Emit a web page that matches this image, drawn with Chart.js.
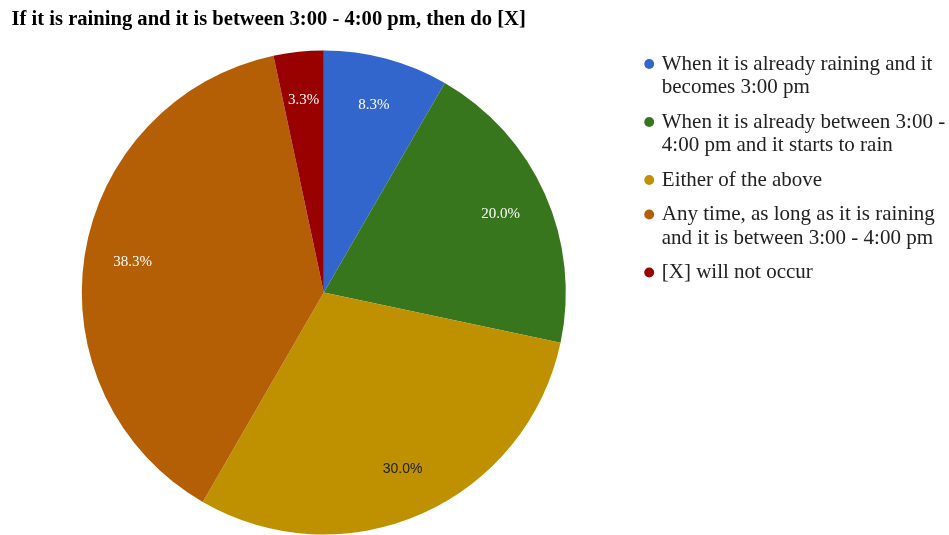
<!DOCTYPE html>
<html>
<head>
<meta charset="utf-8">
<script src="https://cdn.jsdelivr.net/npm/chart.js@4/dist/chart.umd.min.js"></script>
<style>
  html, body { margin: 0; padding: 0; background: #ffffff; overflow: hidden; }
  #wrap { position: relative; width: 949px; height: 543px; }
</style>
</head>
<body>
<div id="wrap"><canvas id="pie"></canvas></div>
<script>
// Survey answers (number of responses per option)
const chartTitle = 'If it is raining and it is between 3:00 - 4:00 pm, then do [X]';
const categories = [
  ['When it is already raining and it', 'becomes 3:00 pm'],
  ['When it is already between 3:00 -', '4:00 pm and it starts to rain'],
  ['Either of the above'],
  ['Any time, as long as it is raining', 'and it is between 3:00 - 4:00 pm'],
  ['[X] will not occur']
];
const responses = [5, 12, 18, 23, 2];
const sliceColors = ['#3366cc', '#38761d', '#bf9000', '#b45f06', '#990000'];

// Percentage labels drawn inside each slice
const sliceLabels = {
  id: 'sliceLabels',
  afterDatasetsDraw(chart, args, opts) {
    const ctx = chart.ctx;
    const meta = chart.getDatasetMeta(0);
    const values = chart.data.datasets[0].data;
    const total = values.reduce((a, b) => a + b, 0);
    ctx.save();
    ctx.textAlign = 'center';
    ctx.textBaseline = 'middle';
    meta.data.forEach((arc, i) => {
      const p = arc.getProps(['x', 'y', 'startAngle', 'endAngle', 'outerRadius'], true);
      const mid = (p.startAngle + p.endAngle) / 2;
      const r = p.outerRadius * opts.radiusFactor;
      const dark = opts.darkText.includes(i);
      ctx.fillStyle = dark ? '#222222' : '#ffffff';
      ctx.font = dark ? opts.darkFont : opts.lightFont;
      ctx.fillText((values[i] / total * 100).toFixed(1) + '%', p.x + Math.cos(mid) * r, p.y + Math.sin(mid) * r);
    });
    ctx.restore();
  }
};

new Chart(document.getElementById('pie'), {
  type: 'pie',
  data: {
    labels: categories,
    datasets: [{
      data: responses,
      backgroundColor: sliceColors,
      borderWidth: 0,
      radius: 242
    }]
  },
  options: {
    responsive: true,
    maintainAspectRatio: false,
    animation: false,
    layout: { padding: { left: 11.5, right: 0, top: 0, bottom: 0.5 } },
    plugins: {
      title: {
        display: true,
        text: chartTitle,
        align: 'start',
        color: '#000000',
        font: { family: '"Liberation Serif", "Times New Roman", serif', size: 20.6, weight: 'bold', lineHeight: 1.2 },
        padding: { top: 7.6, bottom: 10.2 }
      },
      legend: {
        position: 'right',
        align: 'start',
        fullSize: false,
        maxWidth: 312.9,
        labels: {
          usePointStyle: true,
          pointStyle: 'circle',
          boxWidth: 4.2,
          boxHeight: 7,
          padding: 11,
          color: '#222222',
          font: { family: '"Liberation Serif", "Times New Roman", serif', size: 21, lineHeight: 23.5 / 21 }
        }
      },
      tooltip: { enabled: false },
      sliceLabels: {
        radiusFactor: 0.8,
        darkText: [2],
        lightFont: '15px "Liberation Serif", "Times New Roman", serif',
        darkFont: '14px "Liberation Sans", Arial, sans-serif'
      }
    }
  },
  plugins: [sliceLabels]
});
</script>
</body>
</html>
